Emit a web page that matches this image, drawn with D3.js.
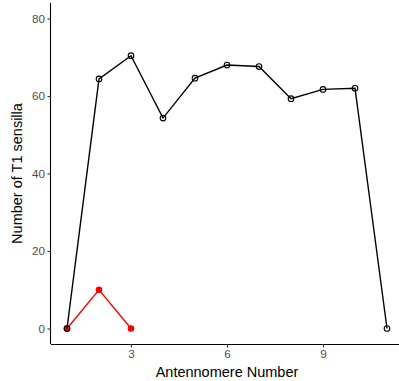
<!DOCTYPE html>
<html>
<head>
<meta charset="utf-8">
<script src="https://cdn.jsdelivr.net/npm/d3@7"></script>
<style>
  html, body { margin: 0; padding: 0; background: #fff; }
  svg { display: block; }
  text { font-family: "Liberation Sans", Arial, Helvetica, sans-serif; }
</style>
</head>
<body>
<svg id="chart" width="399" height="381"></svg>
<script>
// Antennomere positions and sensilla counts for the two series
const antennomeres = [1, 2, 3, 4, 5, 6, 7, 8, 9, 10, 11];
const blackCounts = [0, 64.4, 70.4, 54.3, 64.6, 68.0, 67.6, 59.3, 61.7, 62.0, 0];
const redAntennomeres = [1, 2, 3];
const redCounts = [0, 10, 0];
const xTicks = [3, 6, 9];
const yTicks = [0, 20, 40, 60, 80];

const svg = d3.select("#chart");
const panel = { left: 51, right: 403, top: 3, bottom: 344 };

const x = d3.scaleLinear().domain([0.5, 11.5]).range([panel.left, panel.right]);
const y = d3.scaleLinear().domain([-4, 84]).range([panel.bottom, panel.top]);

// Axes
const xAxis = svg.append("g")
  .attr("transform", `translate(0,${panel.bottom})`)
  .call(d3.axisBottom(x).tickValues(xTicks).tickFormat(d3.format("d")).tickSize(3.5).tickPadding(2.5));
const yAxis = svg.append("g")
  .attr("transform", `translate(${panel.left},0)`)
  .call(d3.axisLeft(y).tickValues(yTicks).tickFormat(d3.format("d")).tickSize(3.5).tickPadding(2.5));

[xAxis, yAxis].forEach(g => {
  g.select(".domain").attr("stroke", "#000").attr("stroke-width", 1.1);
  g.selectAll(".tick line").attr("stroke", "#333").attr("stroke-width", 1.1);
  g.selectAll(".tick text").attr("fill", "#4d4d4d").style("font-size", "11.7px");
});
// extend domains to the full panel edges (no outer ticks)
xAxis.select(".domain").attr("d", `M${panel.left},0.5H${panel.right}`);
yAxis.select(".domain").attr("d", `M-0.5,${panel.bottom}V${panel.top}`);

const line = d3.line().x(d => x(d[0])).y(d => y(d[1]));

// Red series (drawn underneath)
const redData = redAntennomeres.map((a, i) => [a, redCounts[i]]);
svg.append("path").datum(redData)
  .attr("d", line).attr("fill", "none").attr("stroke", "#ff0000").attr("stroke-width", 1.4);
svg.selectAll(".red-pt").data(redData).enter().append("circle")
  .attr("cx", d => x(d[0])).attr("cy", d => y(d[1])).attr("r", 3.3)
  .attr("fill", "#ff0000");

// Black series with open circles
const blackData = antennomeres.map((a, i) => [a, blackCounts[i]]);
svg.append("path").datum(blackData)
  .attr("d", line).attr("fill", "none").attr("stroke", "#000").attr("stroke-width", 1.4);
svg.selectAll(".black-pt").data(blackData).enter().append("circle")
  .attr("cx", d => x(d[0])).attr("cy", d => y(d[1])).attr("r", 2.8)
  .attr("fill", "none").attr("stroke", "#000").attr("stroke-width", 1.1);

// Axis titles
svg.append("text")
  .attr("x", (panel.left + panel.right) / 2).attr("y", 377)
  .attr("text-anchor", "middle").style("font-size", "14.5px").attr("fill", "#000")
  .text("Antennomere Number");
svg.append("text")
  .attr("transform", `translate(22,${(panel.top + panel.bottom) / 2}) rotate(-90)`)
  .attr("text-anchor", "middle").style("font-size", "14.5px").attr("fill", "#000")
  .text("Number of T1 sensilla");
</script>
</body>
</html>
